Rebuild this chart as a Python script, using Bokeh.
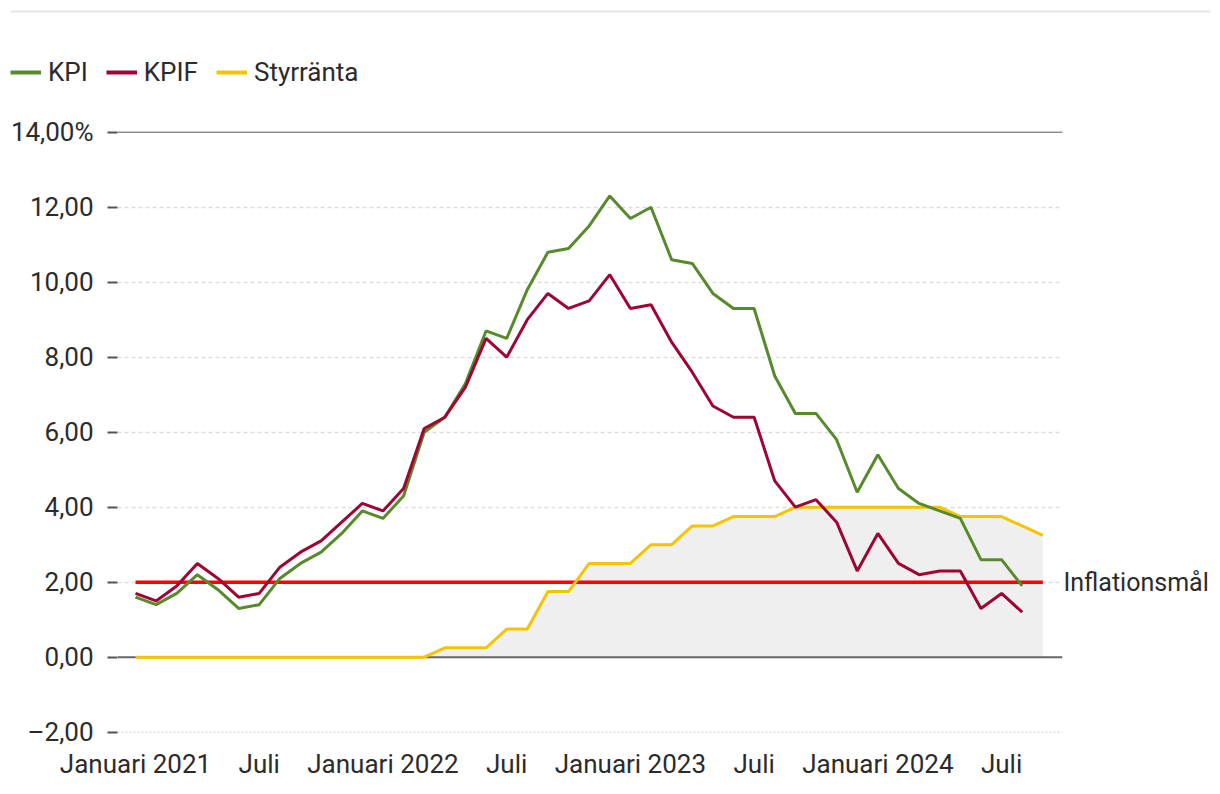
import numpy as np
from bokeh.plotting import figure
from bokeh.models import Range1d, FixedTicker, Span, Legend, LegendItem, LinearAxis
from bokeh.layouts import column
from bokeh.embed import file_html
from bokeh.resources import INLINE

# Months indexed from January 2021 (0) to September 2024 (44)
months = list(range(45))

kpi = [1.6, 1.4, 1.7, 2.2, 1.8, 1.3, 1.4, 2.1, 2.5, 2.8, 3.3, 3.9,
       3.7, 4.3, 6.0, 6.4, 7.3, 8.7, 8.5, 9.8, 10.8, 10.9, 11.5, 12.3,
       11.7, 12.0, 10.6, 10.5, 9.7, 9.3, 9.3, 7.5, 6.5, 6.5, 5.8, 4.4,
       5.4, 4.5, 4.1, 3.9, 3.7, 2.6, 2.6, 1.9]

kpif = [1.7, 1.5, 1.9, 2.5, 2.1, 1.6, 1.7, 2.4, 2.8, 3.1, 3.6, 4.1,
        3.9, 4.5, 6.1, 6.4, 7.2, 8.5, 8.0, 9.0, 9.7, 9.3, 9.5, 10.2,
        9.3, 9.4, 8.4, 7.6, 6.7, 6.4, 6.4, 4.7, 4.0, 4.2, 3.6, 2.3,
        3.3, 2.5, 2.2, 2.3, 2.3, 1.3, 1.7, 1.2]

styr = [0, 0, 0, 0, 0, 0, 0, 0, 0, 0, 0, 0,
        0, 0, 0, 0.25, 0.25, 0.25, 0.75, 0.75, 1.75, 1.75, 2.5, 2.5,
        2.5, 3.0, 3.0, 3.5, 3.5, 3.75, 3.75, 3.75, 4.0, 4.0, 4.0, 4.0,
        4.0, 4.0, 4.0, 4.0, 3.75, 3.75, 3.75, 3.5, 3.25]

goal = 2.0
goal_label = "Inflationsmål"
series_names = ["KPI", "KPIF", "Styrränta"]

x_ticks = [0, 6, 12, 18, 24, 30, 36, 42]
x_labels = ["Januari 2021", "Juli", "Januari 2022", "Juli",
            "Januari 2023", "Juli", "Januari 2024", "Juli"]
y_ticks = [-2, 0, 2, 4, 6, 8, 10, 12, 14]
y_labels = ["\u20132,00", "0,00", "2,00", "4,00", "6,00", "8,00",
            "10,00", "12,00", "14,00%"]

FONT = "Roboto"
FS = "26px"
TXT = "#2b2b2b"
C_KPI = "#578a2c"
C_KPIF = "#9e0533"
C_STYR = "#f5c400"
C_GOAL = "#ff0000"
colors = [C_KPI, C_KPIF, C_STYR]

W = 1212

# ---------------- header: top rule + legend ----------------
HEAD_H = 110
head = figure(width=W, height=HEAD_H, output_backend="svg", toolbar_location=None,
              x_range=Range1d(0, 1), y_range=Range1d(HEAD_H, 0),
              x_axis_type=None, y_axis_type=None,
              min_border_left=10, min_border_right=2, min_border_top=0, min_border_bottom=0)
head.frame_align = False
head.outline_line_color = None
head.xgrid.grid_line_color = None
head.ygrid.grid_line_color = None
head.add_layout(Span(location=11, dimension="width", line_color="#e5e5e5", line_width=2))

empty = np.array([np.nan])
dummies = [head.line(x=empty, y=empty, line_color=c, line_width=4) for c in colors]
legend = Legend(items=[LegendItem(label=n, renderers=[r]) for n, r in zip(series_names, dummies)],
                orientation="horizontal", location=(0, 23), padding=0, margin=0,
                spacing=18, label_standoff=7, glyph_width=31, glyph_height=30,
                label_height=30, label_text_font=FONT, label_text_font_size=FS,
                label_text_color=TXT, border_line_color=None, background_fill_alpha=0)
head.add_layout(legend)

# ---------------- main chart ----------------
p = figure(width=W, height=676, output_backend="svg", toolbar_location=None,
           x_range=Range1d(-0.873, 44.955), y_range=Range1d(-2.275, 14.312),
           min_border_left=117, min_border_right=150, min_border_top=10,
           min_border_bottom=44)
p.frame_align = False
p.outline_line_color = None
p.background_fill_color = "white"

p.xaxis.ticker = FixedTicker(ticks=x_ticks)
p.xaxis.major_label_overrides = {t: l for t, l in zip(x_ticks, x_labels)}
p.xaxis.axis_line_color = None
p.xaxis.major_tick_line_color = None
p.xaxis.minor_tick_line_color = None
p.xaxis.major_tick_out = 0
p.xaxis.major_label_standoff = 6
p.xaxis.major_label_text_font = FONT
p.xaxis.major_label_text_font_size = FS
p.xaxis.major_label_text_color = TXT

p.yaxis.ticker = FixedTicker(ticks=y_ticks)
p.yaxis.major_label_overrides = {t: l for t, l in zip(y_ticks, y_labels)}
p.yaxis.axis_line_color = None
p.yaxis.major_tick_line_color = "#555555"
p.yaxis.major_tick_line_width = 2
p.yaxis.major_tick_out = 10
p.yaxis.major_tick_in = 0
p.yaxis.minor_tick_line_color = None
p.yaxis.major_label_standoff = 14
p.yaxis.major_label_text_font = FONT
p.yaxis.major_label_text_font_size = FS
p.yaxis.major_label_text_color = TXT

goal_axis = LinearAxis(ticker=FixedTicker(ticks=[goal]),
                       major_label_overrides={goal: goal_label})
goal_axis.axis_line_color = None
goal_axis.major_tick_line_color = None
goal_axis.minor_tick_line_color = None
goal_axis.major_tick_out = 0
goal_axis.major_tick_in = 0
goal_axis.major_label_standoff = 1
goal_axis.major_label_text_font = FONT
goal_axis.major_label_text_font_size = "25px"
goal_axis.major_label_text_color = TXT
p.add_layout(goal_axis, "right")

p.xgrid.grid_line_color = None
p.ygrid.ticker = FixedTicker(ticks=[2, 4, 6, 8, 10, 12])
p.ygrid.grid_line_color = "#dddddd"
p.ygrid.grid_line_width = 1.5
p.ygrid.grid_line_dash = "4 3"

area = p.varea(x=months, y1=[0] * len(months), y2=styr, fill_color="#efefef")
area.level = "underlay"

p.add_layout(Span(location=-2, dimension="width", line_color="#dddddd",
                  line_width=1.5, line_dash="2 2", level="underlay"))
p.add_layout(Span(location=0, dimension="width", line_color="#666666",
                  line_width=2, level="underlay"))
p.add_layout(Span(location=14, dimension="width", line_color="#555555",
                  line_width=1, level="underlay"))

p.line(x=[months[0], months[-1]], y=[goal, goal], line_color=C_GOAL, line_width=3.5)
p.line(x=months, y=styr, line_color=C_STYR, line_width=3)
p.line(x=months[:len(kpi)], y=kpi, line_color=C_KPI, line_width=3)
p.line(x=months[:len(kpif)], y=kpif, line_color=C_KPIF, line_width=3)

layout = column(head, p, spacing=0)
open("out.html", "w").write(file_html(layout, INLINE))
